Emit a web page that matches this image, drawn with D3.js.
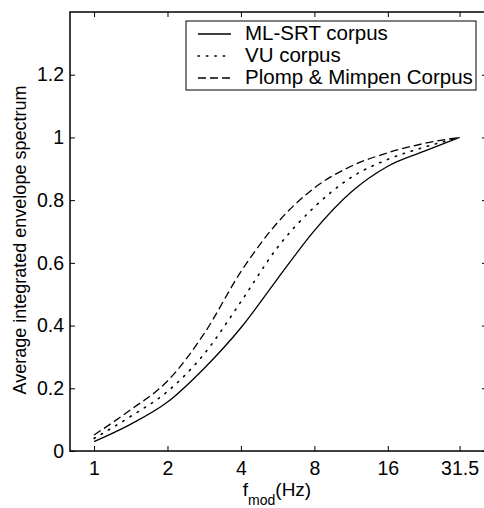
<!DOCTYPE html>
<html>
<head>
<meta charset="utf-8">
<script src="https://cdn.jsdelivr.net/npm/d3@7"></script>
<style>
  body { margin: 0; background: #fff; }
  svg { display: block; font-family: "Liberation Sans", Arial, Helvetica, sans-serif; }
</style>
</head>
<body>
<div id="chart"></div>
<script>
// modulation frequencies (Hz), read at half-octave steps
const freqs = [1, 1.41, 2, 2.83, 4, 5.66, 8, 11.3, 16, 22.6, 31.5]
const mlSrt = [0.030, 0.085, 0.156, 0.264, 0.393, 0.550, 0.703, 0.825, 0.908, 0.956, 1.0]
const vu = [0.040, 0.110, 0.190, 0.310, 0.476, 0.650, 0.778, 0.872, 0.930, 0.969, 1.0]
const plomp = [0.051, 0.131, 0.223, 0.375, 0.572, 0.729, 0.839, 0.908, 0.951, 0.981, 1.0]

const xTicks = [1, 2, 4, 8, 16, 31.5]
const xTickLabels = ['1', '2', '4', '8', '16', '31.5']
const yTicks = [0, 0.2, 0.4, 0.6, 0.8, 1, 1.2]
const seriesNames = ['ML-SRT corpus', 'VU corpus', 'Plomp & Mimpen Corpus']

const W = 484
const H = 508
const box = { left: 70, top: 12, right: 487, bottom: 451 }

const svg = d3.select('#chart')
  .append('svg')
  .attr('width', W)
  .attr('height', H)

const xs = d3.scaleLog()
  .base(2)
  .domain([0.797, 40.8])
  .range([box.left, box.right])
const ys = d3.scaleLinear()
  .domain([0, 1.4])
  .range([box.bottom, box.top])

// axes, ticks pointing inward like matlab
const fmt = (d) => d === 0 ? '0' : (d === 1 ? '1' : d3.format('.1f')(d))
const xAxis = svg.append('g')
  .attr('transform', `translate(0,${box.bottom})`)
  .call(d3.axisBottom(xs)
    .tickValues(xTicks)
    .tickFormat((d, i) => xTickLabels[i])
    .tickSizeInner(-5).tickSizeOuter(0).tickPadding(10))
const yAxis = svg.append('g')
  .attr('transform', `translate(${box.left},0)`)
  .call(d3.axisLeft(ys)
    .tickValues(yTicks)
    .tickFormat(fmt)
    .tickSizeInner(-5).tickSizeOuter(0).tickPadding(6))
const topAxis = svg.append('g')
  .attr('transform', `translate(0,${box.top})`)
  .call(d3.axisTop(xs).tickValues(xTicks).tickFormat('')
    .tickSizeInner(-5).tickSizeOuter(0))
const rightAxis = svg.append('g')
  .attr('transform', `translate(${box.right},0)`)
  .call(d3.axisRight(ys).tickValues(yTicks).tickFormat('')
    .tickSizeInner(-5).tickSizeOuter(0))

for (const ax of [xAxis, yAxis, topAxis, rightAxis]) {
  ax.select('.domain').remove()
  ax.selectAll('.tick line').attr('stroke', '#000').attr('stroke-width', 1)
  ax.selectAll('.tick text')
    .attr('fill', '#000')
    .style('font-size', '19.5px')
    .style('font-family', '"Liberation Sans", Arial, sans-serif')
}

// frame
svg.append('rect')
  .attr('x', box.left)
  .attr('y', box.top)
  .attr('width', box.right - box.left)
  .attr('height', box.bottom - box.top)
  .attr('fill', 'none')
  .attr('stroke', '#000')
  .attr('stroke-width', 1.5)

// curves
const dashes = [null, '1.4 7', '8 4']
const series = [mlSrt, vu, plomp]
const line = d3.line()
  .x((d, i) => xs(freqs[i]))
  .y((d) => ys(d))
  .curve(d3.curveMonotoneX)

series.forEach((vals, k) => {
  svg.append('path')
    .datum(vals)
    .attr('d', line)
    .attr('fill', 'none')
    .attr('stroke', '#000')
    .attr('stroke-width', k === 1 ? 1.6 : 1.3)
    .attr('stroke-linecap', k === 1 ? 'round' : 'butt')
    .attr('stroke-dasharray', dashes[k])
})

// legend
const lg = svg.append('g')
lg.append('rect')
  .attr('x', 186)
  .attr('y', 21)
  .attr('width', 290)
  .attr('height', 69)
  .attr('fill', '#fff')
  .attr('stroke', '#000')
  .attr('stroke-width', 1)
seriesNames.forEach((name, k) => {
  const y = 34 + k * 22
  lg.append('path')
    .attr('d', `M198,${y}H231`)
    .attr('stroke', '#000')
    .attr('stroke-width', k === 1 ? 1.6 : 1.3)
    .attr('stroke-linecap', k === 1 ? 'round' : 'butt')
    .attr('stroke-dasharray', dashes[k])
  lg.append('text')
    .attr('x', 245)
    .attr('y', y + 6)
    .style('font-size', '20.5px')
    .text(name)
})

// axis labels
svg.append('text')
  .attr('transform', 'translate(25.5,240) rotate(-90)')
  .style('text-anchor', 'middle')
  .style('font-size', '18px')
  .text('Average integrated envelope spectrum')

const xl = svg.append('text')
  .attr('x', 277)
  .attr('y', 496)
  .style('text-anchor', 'middle')
  .style('font-size', '19px')
xl.append('tspan').text('f')
xl.append('tspan').attr('dy', 9).style('font-size', '14px').text('mod')
xl.append('tspan').attr('dy', -9).text('(Hz)')
</script>
</body>
</html>
